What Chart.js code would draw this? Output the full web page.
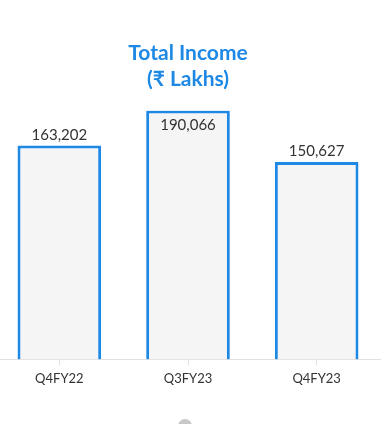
<!DOCTYPE html>
<html>
<head>
<meta charset="utf-8">
<script src="https://cdn.jsdelivr.net/npm/chart.js@4"></script>
<style>
  html, body { margin: 0; padding: 0; background: #fff; overflow: hidden; }
  #wrap { position: absolute; left: -5px; top: 0; width: 386px; height: 393px; }
  .dot { position: absolute; left: 178px; top: 419px; width: 14px; height: 14px; border-radius: 50%; background: #c8c8c8; }
</style>
</head>
<body>
<div id="wrap"><canvas id="chart"></canvas></div>
<div class="dot"></div>
<script>
const quarters = ['Q4FY22', 'Q3FY23', 'Q4FY23'];
const totalIncome = [163202, 190066, 150627];
const titleLines = ['Total Income', '(₹ Lakhs)'];

// value above each bar, pushed inside the bar if it would hit the title
const valueLabels = {
  id: 'valueLabels',
  afterDatasetsDraw(chart) {
    const ctx = chart.ctx;
    const meta = chart.getDatasetMeta(0);
    const top = chart.chartArea.top;
    ctx.save();
    ctx.font = '15px Lato';
    ctx.fillStyle = '#333';
    ctx.textAlign = 'center';
    ctx.textBaseline = 'bottom';
    meta.data.forEach((bar, i) => {
      let y = bar.y - 3;
      if (y - 16 < top) y = bar.y + 22;
      ctx.fillText(totalIncome[i].toLocaleString('en-US'), bar.x, y);
    });
    ctx.restore();
  }
};

new Chart(document.getElementById('chart'), {
  type: 'bar',
  data: {
    labels: quarters,
    datasets: [{
      data: totalIncome,
      backgroundColor: '#f5f5f5',
      borderColor: '#1e88e5',
      borderWidth: 3,
      categoryPercentage: 0.65,
      barPercentage: 1
    }]
  },
  options: {
    responsive: true,
    maintainAspectRatio: false,
    animation: false,
    plugins: {
      legend: { display: false },
      tooltip: { enabled: false },
      title: {
        display: true,
        text: titleLines,
        color: '#1e88e5',
        font: { family: 'Lato', size: 21, weight: 'bold', lineHeight: 1.2 },
        padding: { top: 41, bottom: 19 }
      }
    },
    scales: {
      y: {
        display: false,
        beginAtZero: true,
        max: Math.max(...totalIncome)
      },
      x: {
        grid: { display: true, offset: false, drawOnChartArea: false, tickLength: 6, color: '#e0e0e0' },
        border: { color: '#e0e0e0' },
        ticks: { color: '#333', font: { family: 'Lato', size: 13 }, padding: 6 }
      }
    }
  },
  plugins: [valueLabels]
});
</script>
</body>
</html>
